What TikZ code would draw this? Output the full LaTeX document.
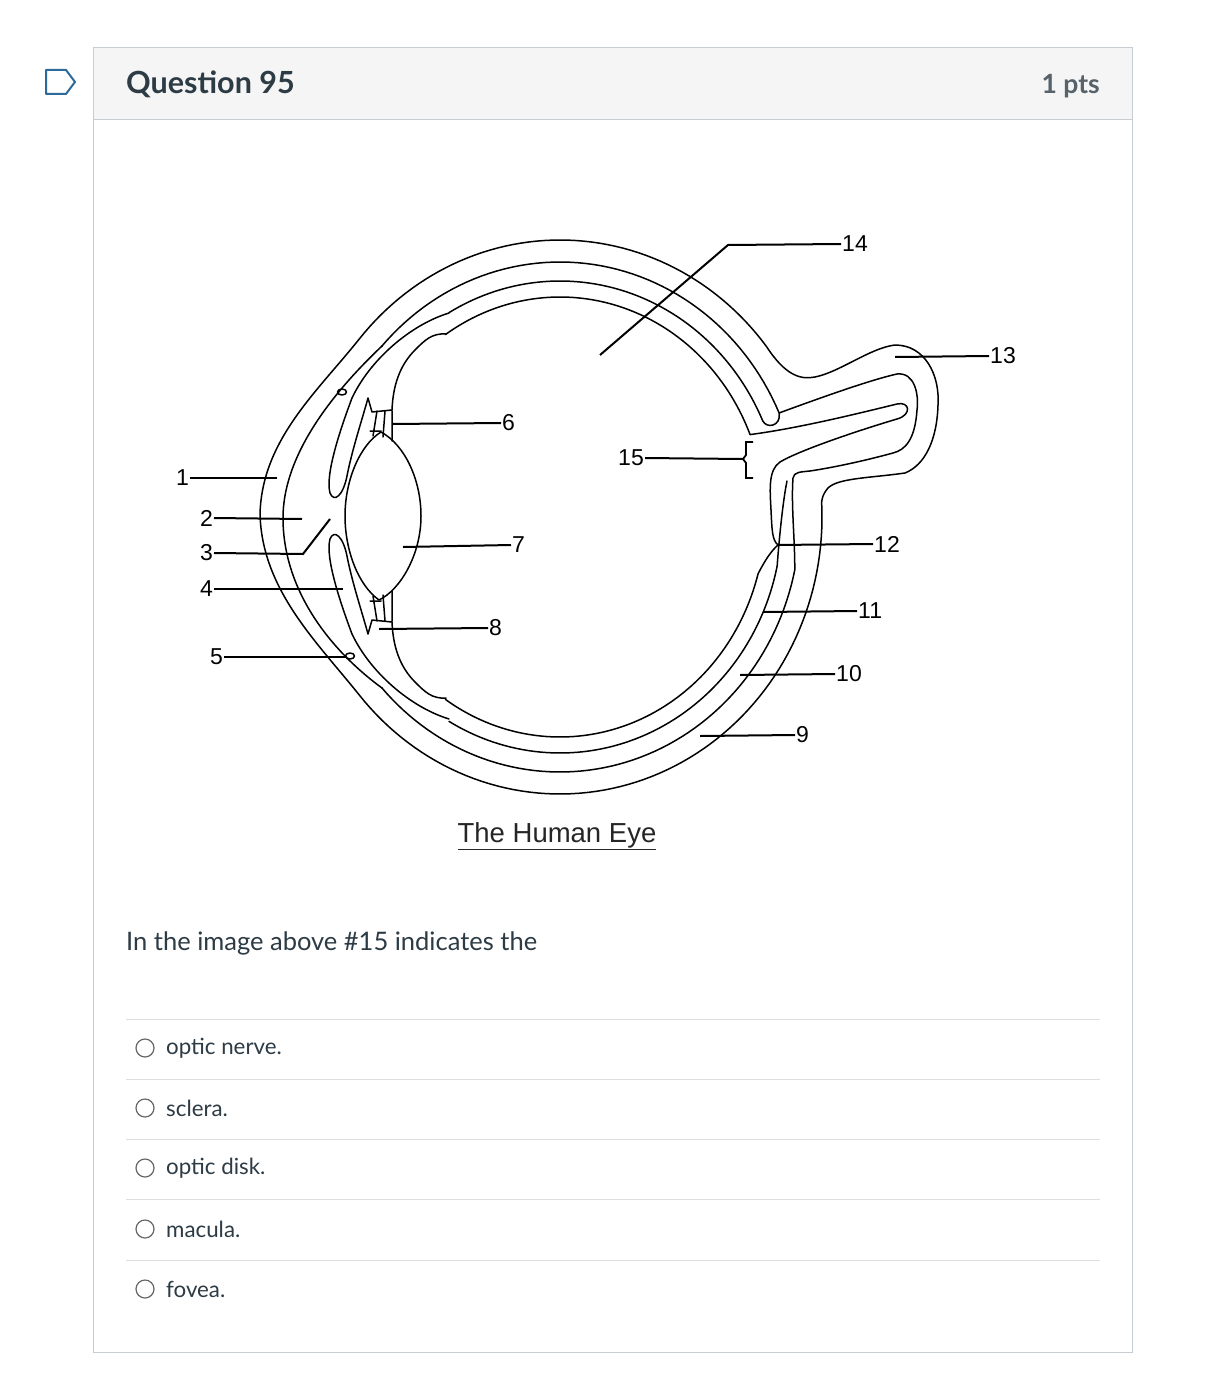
\documentclass[tikz,border=0pt]{standalone}
\usepackage{fontspec}
\setmainfont{Lato}
\newfontfamily\arial{Liberation Sans}
\definecolor{bord}{HTML}{C7CDD1}
\definecolor{head}{HTML}{F5F5F5}
\definecolor{sep}{HTML}{DDDDDD}
\definecolor{txt}{HTML}{2D3B45}
\definecolor{bm}{HTML}{2B6A9A}
\newcommand\anteriorpart{%
  \draw[eye] (449,313) .. controls (410,325) and (370,360) .. (352,398);
  \draw[eye] (352,398) .. controls (340,430) and (325,475) .. (330,493) .. controls (334,503) and (343,496) .. (347,476) .. controls (352,450) and (362,420) .. (368,398) -- (372,412) -- (392,410) .. controls (393,385) and (400,365) .. (415,350) .. controls (425,340) and (432,333) .. (446,334);
  \draw[eye] (373,436) -- (377,411) (383,437) -- (385,411) (392,441) -- (392,411) (370,431) -- (381,431);
}
\begin{document}
\begin{tikzpicture}[x=1pt,y=-1pt,
  eye/.style={line width=1.5pt,line join=round,line cap=round},
  ll/.style={line width=2pt},
  lab/.style={font=\arial\fontsize{23}{26}\selectfont,inner sep=1pt}]
\useasboundingbox (0,0) rectangle (1208,1380);
\fill[white] (0,0) rectangle (1208,1380);
% frame
\fill[head] (93,48) rectangle (1132,120);
\draw[bord,line width=1pt] (93,48) rectangle (1132,1352);
\draw[bord,line width=1pt] (93,120) -- (1132,120);
\draw[bm,line width=2pt,line join=round] (46,70) -- (66,70) -- (75,82) -- (66,94) -- (46,94) -- cycle;
\node[anchor=west,text=txt,font=\bfseries\fontsize{30.5}{34}\selectfont,inner sep=0] (q) at (126,84) {Question 95};
\node[anchor=east,text=txt!80,font=\bfseries\fontsize{26.5}{30}\selectfont,inner sep=0] (p) at (1100,86) {1 pts};
% eye outer
\draw[eye] plot[domain=-3:140,samples=80] ({560+262*cos(\x)},{517+277*sin(\x)}) .. controls (317,642) and (262,590) .. (260,514) .. controls (262,440) and (317,392) .. ({560+262*cos(220)},{517+277*sin(220)}) -- plot[domain=220:322,samples=60] ({560+262*cos(\x)},{517+277*sin(\x)}) .. controls (785,375) and (800,380) .. (815,377) .. controls (840,372) and (870,348) .. (895,345) .. controls (925,345) and (940,375) .. (938,405) .. controls (937,440) and (925,465) .. (905,473) .. controls (870,478) and (838,478) .. (828,488) .. controls (823,494) and (822,498) .. cycle;
% sclera inner top + choroid top
\draw[eye] plot[domain=222:336,samples=60] ({560+240*cos(\x)},{517+255*sin(\x)}) .. controls (781,426) and (767,429) .. ({560+222*cos(336)},{517+236*sin(336)}) -- plot[domain=336:240,samples=60] ({560+222*cos(\x)},{517+236*sin(\x)});
% cornea inner
\draw[eye] (382,346) .. controls (325,400) and (283,460) .. (283,518) .. controls (283,590) and (330,650) .. (382,688);
% nerve inner sheath + sclera inner lower
\draw[eye] (779,413) .. controls (820,398) and (870,380) .. (897,374) .. controls (915,372) and (919,395) .. (917,410) .. controls (915,440) and (905,450) .. (893,453) .. controls (860,462) and (830,468) .. (810,471) .. controls (800,472) and (794,472) .. (793,478) .. controls (791,505) and (795,540) .. ({560+240*cos(12)},{517+255*sin(12)}) -- plot[domain=12:138,samples=70] ({560+240*cos(\x)},{517+255*sin(\x)});
% choroid lower
\draw[eye] (787,481) .. controls (783,500) and (779,540) .. ({560+222*cos(12)},{517+236*sin(12)}) -- plot[domain=12:120,samples=70] ({560+222*cos(\x)},{517+236*sin(\x)});
% retina
\draw[eye] plot[domain=236:338,samples=60] ({560+205*cos(\x)},{517+220*sin(\x)}) .. controls (800,428) and (860,413) .. (897,404) .. controls (910,401) and (912,415) .. (897,419) .. controls (860,430) and (800,450) .. (780,462) .. controls (768,470) and (770,490) .. (771,510) .. controls (772,530) and (772,540) .. (778,545) .. controls (772,550) and (765,560) .. ({560+205*cos(15)},{517+220*sin(15)}) -- plot[domain=15:124,samples=70] ({560+205*cos(\x)},{517+220*sin(\x)});
% anterior parts
\anteriorpart
\begin{scope}[shift={(0,1032)},yscale=-1]
\anteriorpart
\end{scope}
\draw[eye] (342,392) ellipse [x radius=4.5pt,y radius=3pt];
\draw[eye] (350,656) ellipse [x radius=4.5pt,y radius=3pt];
% lens
\draw[eye] (381,432) .. controls (405,445) and (421,480) .. (421,516) .. controls (421,555) and (400,590) .. (379,600) .. controls (358,585) and (345,550) .. (345,516) .. controls (345,480) and (360,445) .. (381,432);
% labels
\node[lab,anchor=east] (l1) at (190,478) {1}; \draw[ll] (l1.east) -- (277,478);
\node[lab,anchor=east] (l2) at (214,518) {2}; \draw[ll] (l2.east) -- (302,519);
\node[lab,anchor=east] (l3) at (214,553) {3}; \draw[ll] (l3.east) -- (303,554) -- (330,519);
\node[lab,anchor=east] (l4) at (214,589) {4}; \draw[ll] (l4.east) -- (343,589);
\node[lab,anchor=east] (l5) at (224,657) {5}; \draw[ll] (l5.east) -- (346,657);
\node[lab,anchor=west] (l6) at (501,423) {6}; \draw[ll] (392,424) -- (l6.west);
\node[lab,anchor=west] (l7) at (511,545) {7}; \draw[ll] (403,547) -- (l7.west);
\node[lab,anchor=west] (l8) at (488,628) {8}; \draw[ll] (379,629) -- (l8.west);
\node[lab,anchor=east] (l15) at (645,458) {15}; \draw[ll] (l15.east) -- (743,459);
\draw[line width=1.8pt] (753,442) -- (746,442) -- (746,455) -- (743,459) -- (746,463) -- (746,478) -- (753,478);
\node[lab,anchor=west] (l14) at (841,244) {14}; \draw[ll] (600,355) -- (728,245) -- (l14.west);
\node[lab,anchor=west] (l13) at (989,356) {13}; \draw[ll] (895,357) -- (l13.west);
\node[lab,anchor=west] (l12) at (873,544) {12}; \draw[ll] (777,545) -- (l12.west);
\node[lab,anchor=west] (l11) at (857,611) {11}; \draw[ll] (763,612) -- (l11.west);
\node[lab,anchor=west] (l10) at (835,674) {10}; \draw[ll] (740,675) -- (l10.west);
\node[lab,anchor=west] (l9) at (795,735) {9}; \draw[ll] (700,736) -- (l9.west);
\node[font=\arial\fontsize{27.5}{30}\selectfont,text=black!85] (cap) at (557,836) {\underline{The Human Eye}};
% question
\node[anchor=west,text=txt,font=\fontsize{25.5}{29}\selectfont,inner sep=0] (qt) at (126,943) {In the image above \#15 indicates the};
\foreach \y in {1019,1079,1139,1199,1260} \draw[sep,line width=1pt] (126,\y) -- (1100,\y);
\foreach \y/\t [count=\i] in {1048/optic nerve.,1108/sclera.,1168/optic disk.,1229/macula.,1289/fovea.}{
  \draw[black!60,line width=1.2pt] (145,\y) circle (9pt);
  \node[anchor=west,text=txt,font=\fontsize{22.3}{26}\selectfont,inner sep=0] (o\i) at (166,\y) {\t};
}
\end{tikzpicture}
\end{document}
